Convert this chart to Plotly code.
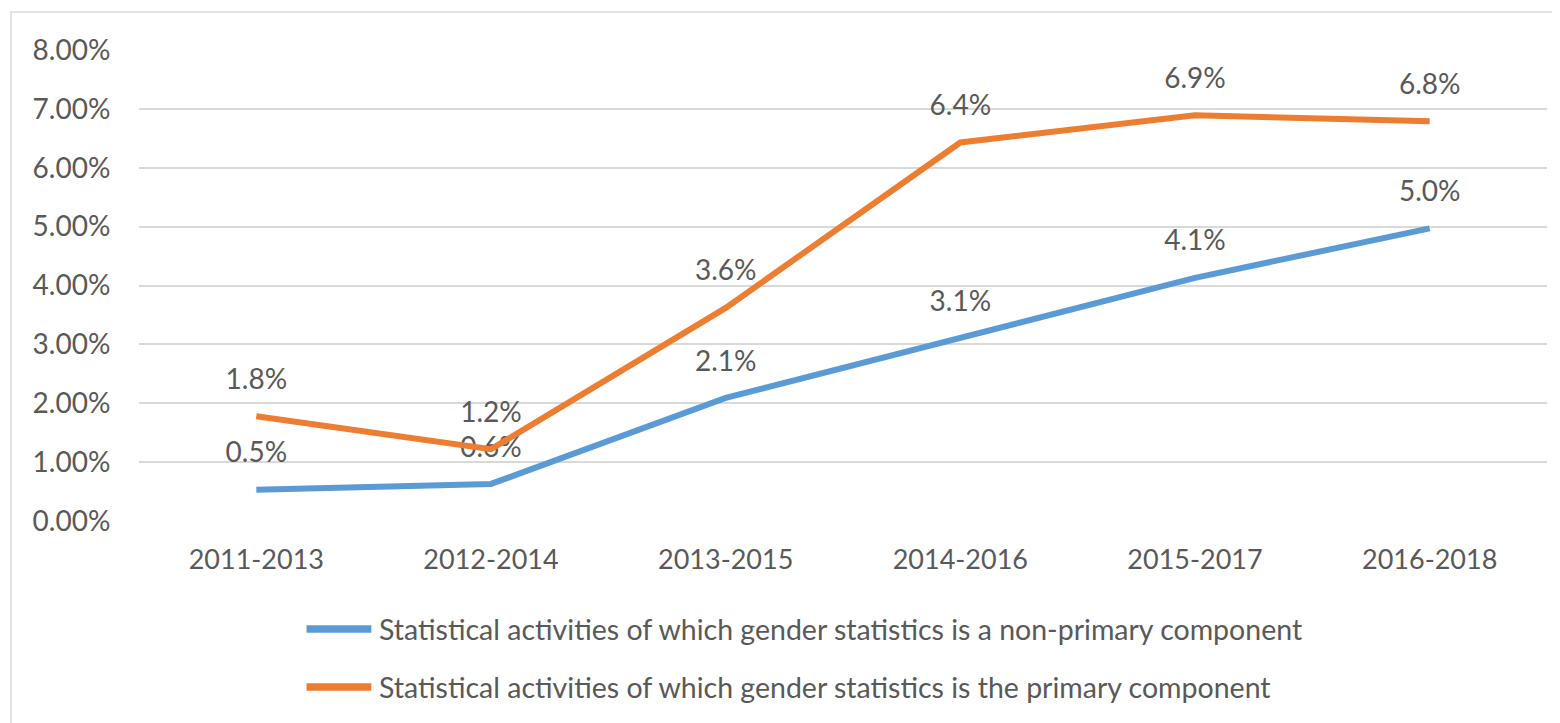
import plotly.graph_objects as go

categories = ["2011-2013", "2012-2014", "2013-2015", "2014-2016", "2015-2017", "2016-2018"]
non_primary = [0.0053, 0.0063, 0.0209, 0.0310, 0.0413, 0.0497]
primary = [0.0178, 0.0122, 0.0362, 0.0643, 0.0689, 0.0679]
non_primary_labels = ["0.5%", "0.6%", "2.1%", "3.1%", "4.1%", "5.0%"]
primary_labels = ["1.8%", "1.2%", "3.6%", "6.4%", "6.9%", "6.8%"]
name_np = "Statistical activities of which gender statistics is a non-primary component"
name_p = "Statistical activities of which gender statistics is the primary component"
y_ticks = [0, 0.01, 0.02, 0.03, 0.04, 0.05, 0.06, 0.07, 0.08]

FONT = "Lato"
TXT = "#595959"
BLUE = "#5B9BD5"
ORANGE = "#ED7D31"

series = [
    (name_np, non_primary, non_primary_labels, BLUE),
    (name_p, primary, primary_labels, ORANGE),
]

fig = go.Figure()
for name, vals, labels, color in series:
    fig.add_trace(go.Scatter(
        x=categories, y=vals, name=name,
        mode="lines+markers+text",
        line=dict(color=color, width=6),
        marker=dict(size=31, color="rgba(0,0,0,0)"),
        text=labels, textposition="top center",
        textfont=dict(family=FONT, size=28, color=TXT),
        hoverinfo="skip", showlegend=False,
    ))

# custom legend (long swatches like the original)
shapes = [dict(
    type="rect", xref="paper", yref="paper",
    x0=-0.0909, x1=1.2, y0=-0.6, y1=1.0807,
    line=dict(color="#D9D9D9", width=1.5), fillcolor="rgba(0,0,0,0)",
    layer="below",
)]
annotations = []
leg_rows = [-0.2293, -0.3524]
for (name, _, _, color), ly in zip(series, leg_rows):
    shapes.append(dict(
        type="line", xref="paper", yref="paper",
        x0=0.1190, x1=0.1650, y0=ly, y1=ly,
        line=dict(color=color, width=7.5),
    ))
    annotations.append(dict(
        xref="paper", yref="paper", x=0.1690, y=ly,
        xanchor="left", yanchor="middle", showarrow=False,
        text=name, font=dict(family=FONT, size=28.5, color=TXT),
    ))

fig.update_layout(
    width=1552, height=715,
    margin=dict(l=131, r=13, t=42, b=202),
    paper_bgcolor="white", plot_bgcolor="white",
    font=dict(family=FONT, size=28, color=TXT),
    showlegend=False,
    xaxis=dict(
        type="category", showgrid=False, zeroline=False, showline=False,
        ticks="outside", ticklen=15, tickcolor="rgba(0,0,0,0)",
        tickfont=dict(family=FONT, size=27, color=TXT),
        range=[-0.5, 5.5],
    ),
    yaxis=dict(
        range=[0, 0.08], tickvals=y_ticks, tickformat=".2%",
        showgrid=True, gridcolor="#D9D9D9", gridwidth=1.5,
        zeroline=False, showline=False,
        ticks="outside", ticklen=22, tickcolor="rgba(0,0,0,0)",
        tickfont=dict(family=FONT, size=28, color=TXT),
    ),
    shapes=shapes,
    annotations=annotations,
)

fig.write_html("out.html")
